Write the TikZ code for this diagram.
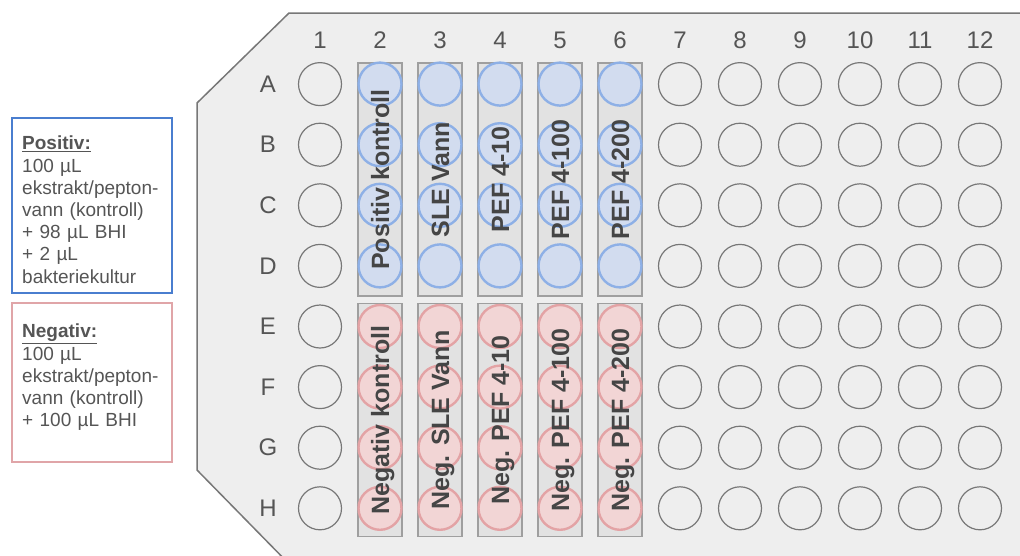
\documentclass[tikz,border=0pt]{standalone}
\usepackage{fontspec}
\setmainfont{Liberation Sans}
\usetikzlibrary{positioning}
\definecolor{plate}{HTML}{EEEEEE}
\definecolor{rim}{HTML}{777777}
\definecolor{ink}{HTML}{555555}
\definecolor{dark}{HTML}{454545}
\definecolor{posL}{HTML}{8EB0E6}
\definecolor{posF}{HTML}{D2DCEF}
\definecolor{negL}{HTML}{E3A3A5}
\definecolor{negF}{HTML}{F2D5D5}
\definecolor{posB}{HTML}{4A7ECF}
\definecolor{negB}{HTML}{E0A5A8}
\definecolor{strip}{HTML}{E2E2E2}
\tikzset{
  well/.style={circle,draw=rim,line width=1.2pt,minimum size=43pt,inner sep=0pt},
  poswell/.style={well,draw=posL,fill=posF,line width=2.4pt},
  negwell/.style={well,draw=negL,fill=negF,line width=2.4pt},
  stripbox/.style={draw=gray!75,fill=strip,line width=1.5pt,minimum width=44pt,minimum height=233pt,inner sep=0pt},
  lbl/.style={font=\fontsize{24}{24}\selectfont,text=ink},
  vtxt/.style={rotate=90,font=\bfseries\fontsize{25}{25}\selectfont,text=dark,text height=18pt,text depth=0pt,inner sep=0pt},
  legbox/.style={draw,line width=2.5pt,minimum width=160pt,inner sep=0pt},
  legtxt/.style={anchor=north west,align=left,text width=150pt,inner sep=0pt,text=ink,font=\fontsize{19}{22.2}\selectfont}
}
\begin{document}
\begin{tikzpicture}[x=1pt,y=-1pt]
  \useasboundingbox (0,0) rectangle (1020,555);
  \clip (0,0) rectangle (1020,555);
  % plate
  \fill[plate,draw=rim,line width=1.5pt] (289,13) -- (1030,13) -- (1030,570) -- (295,570) -- (197,470) -- (197,103) -- cycle;
  % column and row labels
  \foreach \c in {1,...,12} \node[lbl] (c\c) at ({260+60*\c},40) {\c};
  \foreach \r [count=\i] in {A,...,H} \node[lbl] (r\r) at (268,{23.5+60.6*\i}) {\r};
  % empty wells
  \foreach \r [count=\i] in {A,...,H}
    \foreach \c in {1,7,8,9,10,11,12}
      \node[well] (\r\c) at ({260+60*\c},{23.5+60.6*\i}) {};
  % strips
  \foreach \c in {2,...,6} {
    \node[stripbox] (top\c) at ({260+60*\c},179.5) {};
    \node[stripbox] (bot\c) at ({260+60*\c},420) {};
  }
  \foreach \r [count=\i] in {A,...,D}
    \foreach \c in {2,...,6}
      \node[poswell] (\r\c) at ({260+60*\c},{23.5+60.6*\i}) {};
  \foreach \r [count=\i from 5] in {E,...,H}
    \foreach \c in {2,...,6}
      \node[negwell] (\r\c) at ({260+60*\c},{23.5+60.6*\i}) {};
  % strip texts
  \foreach \c/\t in {2/Positiv kontroll,3/SLE Vann,4/PEF 4-10,5/PEF 4-100,6/PEF 4-200}
    \node[vtxt] (pt\c) at (top\c) {\t};
  \foreach \c/\t in {2/Negativ kontroll,3/Neg. SLE Vann,4/Neg. PEF 4-10,5/Neg. PEF 4-100,6/Neg. PEF 4-200}
    \node[vtxt] (nt\c) at (bot\c) {\t};
  % legend
  \node[legbox,draw=posB,minimum height=175pt] (posbox) at (92,205.5) {};
  \node[legtxt] (postxt) at (22,136) {\underline{\textbf{Positiv:}}\\100 µL\\ekstrakt/pepton-\\vann (kontroll)\\+ 98 µL BHI\\+ 2 µL\\bakteriekultur};
  \node[legbox,draw=negB,minimum height=159pt] (negbox) at (92,382.5) {};
  \node[legtxt] (negtxt) at (22,324) {\underline{\textbf{Negativ:}}\\100 µL\\ekstrakt/pepton-\\vann (kontroll)\\+ 100 µL BHI};
\end{tikzpicture}
\end{document}
